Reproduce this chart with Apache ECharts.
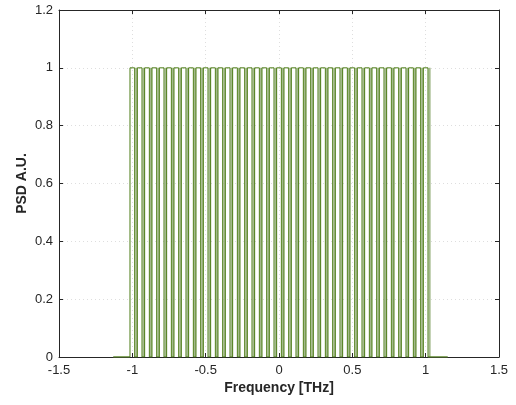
<!DOCTYPE html>
<html><head><meta charset="utf-8">
<script src="https://cdn.jsdelivr.net/npm/echarts@6/dist/echarts.min.js"></script>
<style>html,body{margin:0;padding:0;background:#fff}#c{width:516px;height:405px}</style>
</head><body><div id="c"></div>
<script>
// channel centre frequencies [THz]
var channelCenters = [-1.00,-0.95,-0.90,-0.85,-0.80,-0.75,-0.70,-0.65,-0.60,-0.55,-0.50,-0.45,-0.40,-0.35,-0.30,-0.25,-0.20,-0.15,-0.10,-0.05,0.00,0.05,0.10,0.15,0.20,0.25,0.30,0.35,0.40,0.45,0.50,0.55,0.60,0.65,0.70,0.75,0.80,0.85,0.90,0.95,1.00];
var channelLevel = 1;          // PSD of each channel
var channelHalfWidth = 0.016;  // THz
var edgeOffset = 0.011;        // offset of light trace from falling edge
var spanStart = -1.13, spanEnd = 1.15;
var xTicks = [-1.5, 1.5, 0.5];
var yTicks = [0, 1.2, 0.2];

var dark = [[spanStart, 0]];
var light = [];
channelCenters.forEach(function (c) {
  dark.push([c - channelHalfWidth, 0], [c - channelHalfWidth, channelLevel],
            [c + channelHalfWidth, channelLevel], [c + channelHalfWidth, 0]);
  var e = c + channelHalfWidth + edgeOffset;
  light.push([e, 0], [e, channelLevel], [e, '-']);
});
dark.push([spanEnd, 0]);
var lightBase = [[spanStart, 0], [channelCenters[0] - channelHalfWidth, 0], [spanStart, '-'],
                 [channelCenters[channelCenters.length - 1] + channelHalfWidth, 0], [spanEnd, 0]];

var axisCol = '#262626';
var font = 'Liberation Sans, Arial, sans-serif';
var chart = echarts.init(document.getElementById('c'));
chart.setOption({
  animation: false,
  grid: { left: 59, right: 17, top: 10, bottom: 48 },
  xAxis: [{
    type: 'value', min: xTicks[0], max: xTicks[1], interval: xTicks[2],
    name: 'Frequency [THz]', nameLocation: 'middle', nameGap: 24, nameMoveOverlap: false,
    nameTextStyle: { fontFamily: font, fontSize: 14, fontWeight: 'bold', color: axisCol },
    axisLine: { onZero: false, lineStyle: { color: axisCol, width: 1 } },
    axisTick: { inside: true, length: 4, lineStyle: { color: axisCol } },
    axisLabel: { fontFamily: font, fontSize: 13, color: axisCol, margin: 7 },
    splitLine: { show: true, lineStyle: { color: '#dedede', type: [1, 3] } }
  }, {
    type: 'value', position: 'top', min: xTicks[0], max: xTicks[1], interval: xTicks[2],
    axisLine: { onZero: false, lineStyle: { color: axisCol, width: 1 } },
    axisTick: { inside: true, length: 4, lineStyle: { color: axisCol } },
    axisLabel: { show: false }, splitLine: { show: false }
  }],
  yAxis: [{
    type: 'value', min: yTicks[0], max: yTicks[1], interval: yTicks[2],
    name: 'PSD A.U.', nameLocation: 'middle', nameGap: 30, nameMoveOverlap: false,
    nameTextStyle: { fontFamily: font, fontSize: 14, fontWeight: 'bold', color: axisCol },
    axisLine: { show: true, onZero: false, lineStyle: { color: axisCol, width: 1 } },
    axisTick: { show: true, inside: true, length: 4, lineStyle: { color: axisCol } },
    axisLabel: { fontFamily: font, fontSize: 13, color: axisCol, margin: 6,
      formatter: function (v) { return String(Math.round(v * 10) / 10); } },
    splitLine: { show: true, lineStyle: { color: '#dedede', type: [1, 3] } }
  }, {
    type: 'value', position: 'right', min: yTicks[0], max: yTicks[1], interval: yTicks[2],
    axisLine: { show: true, onZero: false, lineStyle: { color: axisCol, width: 1 } },
    axisTick: { show: true, inside: true, length: 4, lineStyle: { color: axisCol } },
    axisLabel: { show: false }, splitLine: { show: false }
  }],
  series: [{
    type: 'line', data: light, showSymbol: false, connectNulls: false,
    lineStyle: { color: '#a3b98b', width: 2 }, z: 2
  }, {
    type: 'line', data: lightBase, showSymbol: false, connectNulls: false,
    lineStyle: { color: '#7fa05a', width: 1 }, z: 2
  }, {
    type: 'line', data: dark, showSymbol: false,
    lineStyle: { color: '#4b7b14', width: 1 }, z: 3
  }]
});
</script></body></html>
